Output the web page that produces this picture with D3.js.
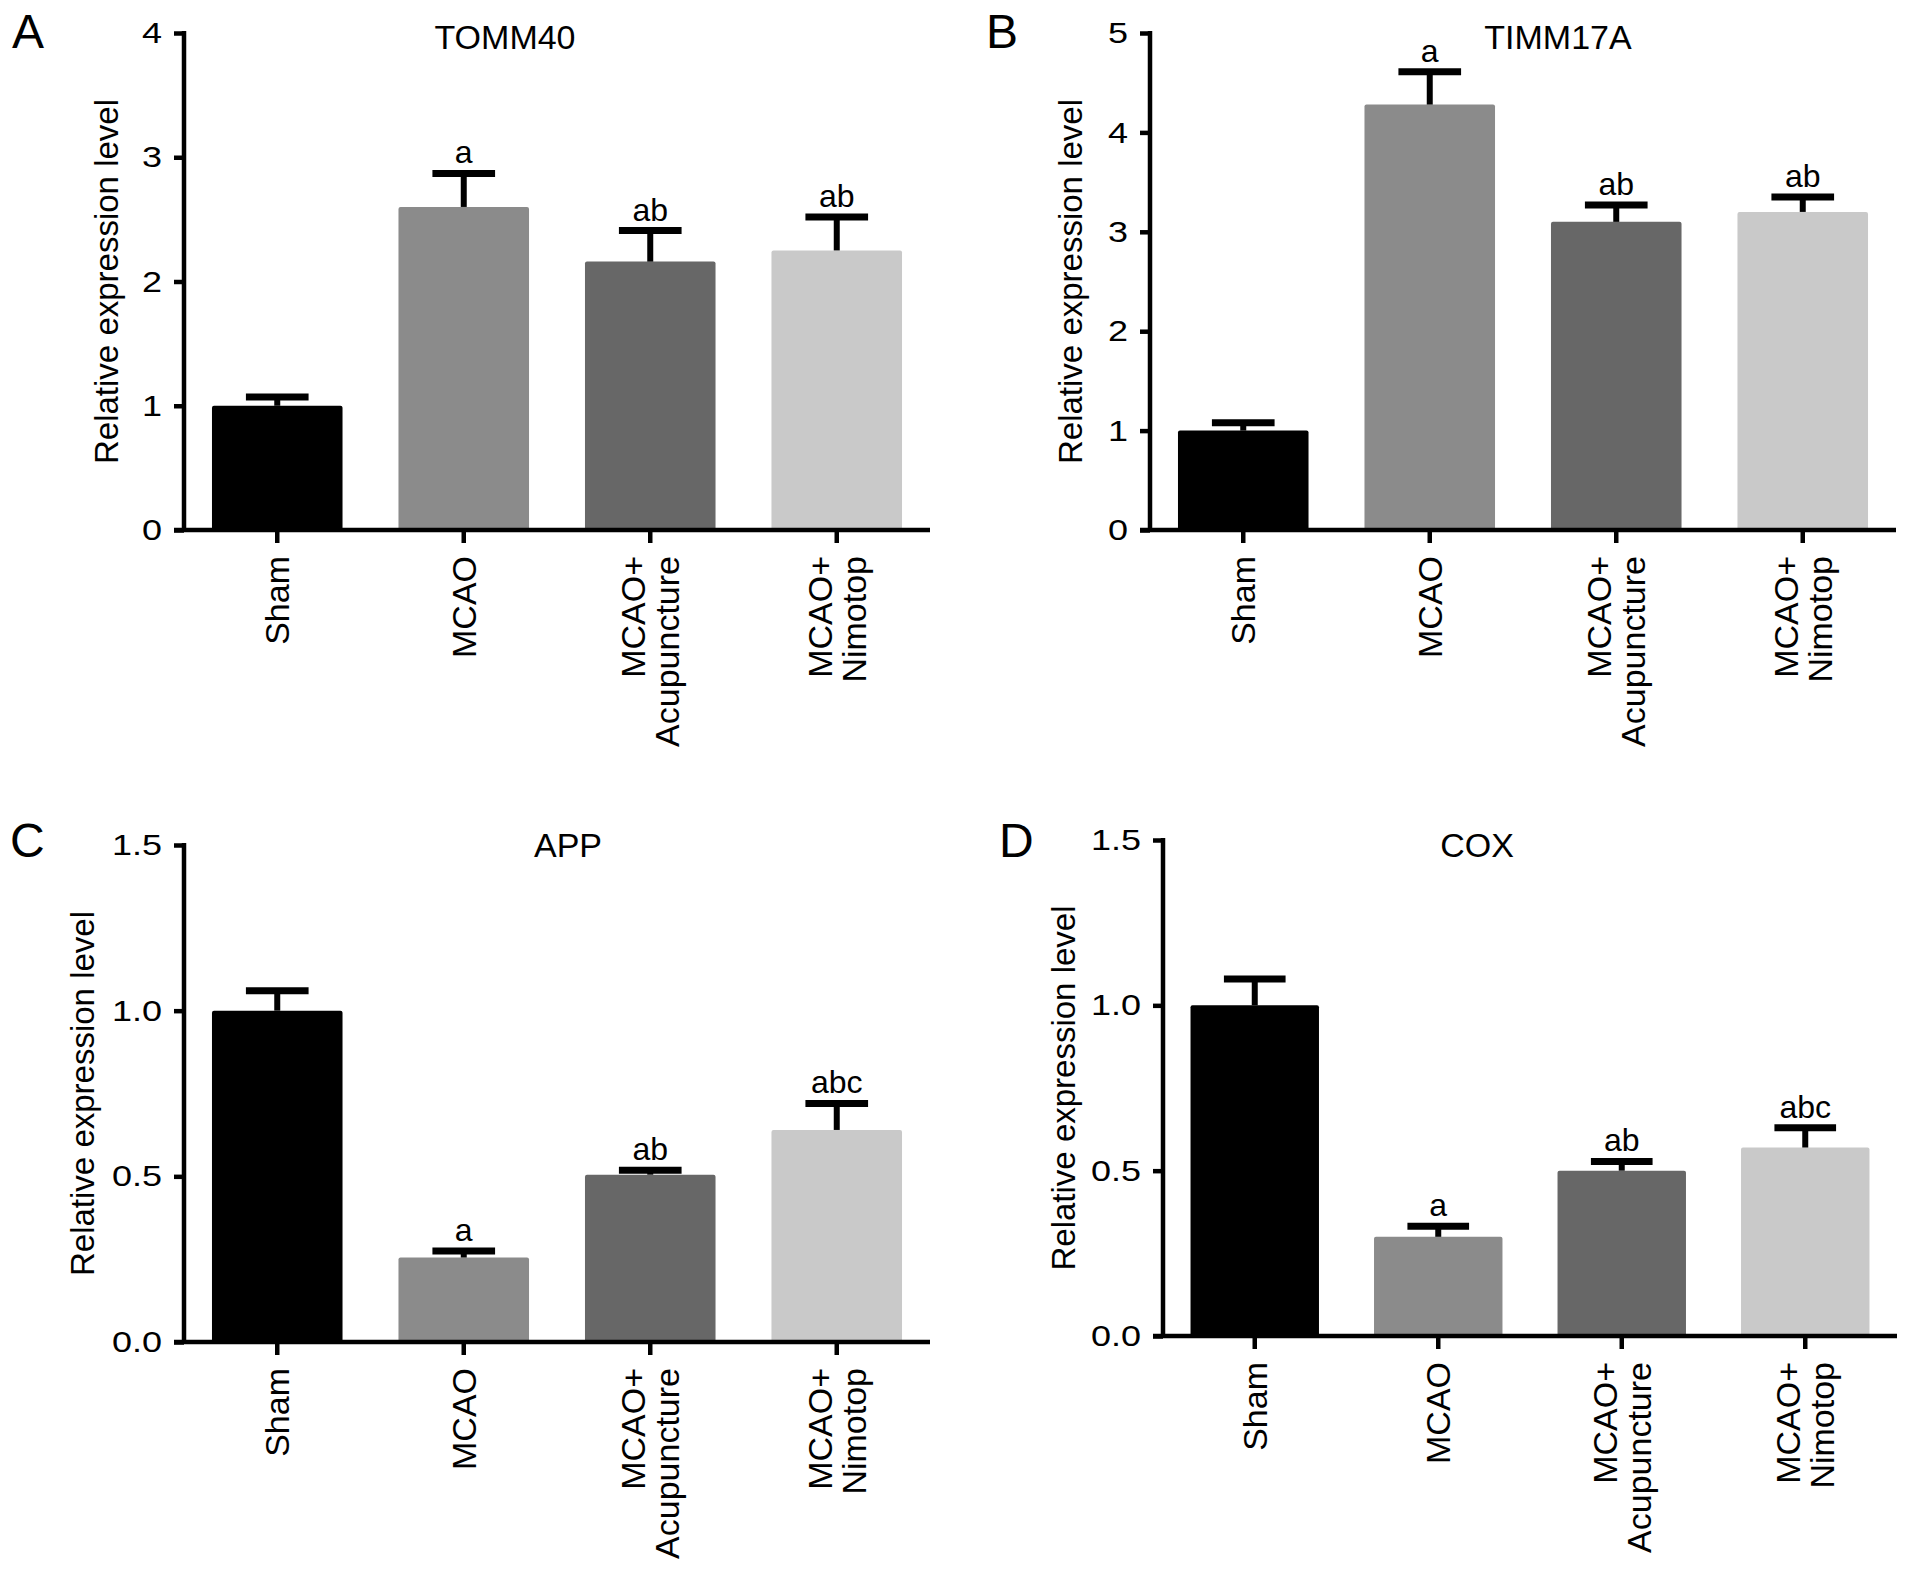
<!DOCTYPE html>
<html>
<head>
<meta charset="utf-8">
<script src="https://cdn.jsdelivr.net/npm/d3@7"></script>
<style>
  html, body { margin: 0; padding: 0; background: #fff; }
  svg text { font-family: "Liberation Sans", Arial, Helvetica, sans-serif; fill: #000; }
</style>
</head>
<body>
<div id="chart"></div>
<script>
const groups = ["Sham", "MCAO", "MCAO+ Acupuncture", "MCAO+ Nimotop"];
const groupLines = [["Sham"], ["MCAO"], ["MCAO+", "Acupuncture"], ["MCAO+", "Nimotop"]];
const barColors = ["#000000", "#8b8b8b", "#676767", "#c9c9c9"];

const tommMean = [1.0, 2.6, 2.16, 2.25];
const tommErr = [0.07, 0.27, 0.25, 0.27];
const tommSig = ["", "a", "ab", "ab"];
const tommTicks = [0, 1, 2, 3, 4];

const timmMean = [1.0, 4.28, 3.1, 3.2];
const timmErr = [0.08, 0.33, 0.17, 0.15];
const timmSig = ["", "a", "ab", "ab"];
const timmTicks = [0, 1, 2, 3, 4, 5];

const appMean = [1.0, 0.255, 0.505, 0.64];
const appErr = [0.06, 0.02, 0.013, 0.08];
const appSig = ["", "a", "ab", "abc"];
const appTicks = [0, 0.5, 1.0, 1.5];

const coxMean = [1.0, 0.3, 0.5, 0.57];
const coxErr = [0.08, 0.032, 0.028, 0.06];
const coxSig = ["", "a", "ab", "abc"];
const coxTicks = [0, 0.5, 1.0, 1.5];

const W = 1913, H = 1574;

const svg = d3.select("#chart")
    .append("svg")
    .attr("width", W)
    .attr("height", H);

function drawPanel(p) {
    const g = svg.append("g");

    const x = d3.scaleBand()
        .domain(groups)
        .range([p.left, p.right])
        .paddingInner(0.3)
        .paddingOuter(0.15);

    const y = d3.scaleLinear()
        .domain([0, p.max])
        .range([p.bottom, p.top]);

    // y axis
    const yAxis = g.append("g")
        .attr("transform", `translate(${p.left},0)`)
        .call(d3.axisLeft(y)
            .tickValues(p.ticks)
            .tickSize(10)
            .tickPadding(12)
            .tickFormat(p.fmt));
    yAxis.select(".domain").remove();
    yAxis.selectAll(".tick line").attr("stroke", "#000").attr("stroke-width", 4.5);
    // tick numbers are drawn wide in the original, stretch them a bit
    yAxis.selectAll(".tick text")
        .style("font-size", "30px")
        .each(function() {
            const len = this.getComputedTextLength();
            d3.select(this)
                .attr("textLength", len * 1.2)
                .attr("lengthAdjust", "spacingAndGlyphs");
        });
    g.append("line")
        .attr("x1", p.left).attr("x2", p.left)
        .attr("y1", y(p.max) - 2).attr("y2", y(0))
        .attr("stroke", "#000").attr("stroke-width", 4.5);

    // bars
    g.selectAll(".bar")
        .data(p.mean)
        .enter()
        .append("rect")
        .attr("x", (d, i) => x(groups[i]))
        .attr("y", d => y(d))
        .attr("width", x.bandwidth())
        .attr("height", d => y(0) - y(d))
        .attr("rx", 2)
        .attr("fill", (d, i) => barColors[i]);

    // error bars (upper only)
    const capW = x.bandwidth() * 0.48;
    p.mean.forEach((m, i) => {
        const cx = x(groups[i]) + x.bandwidth() / 2;
        g.append("line")
            .attr("x1", cx).attr("x2", cx)
            .attr("y1", y(m)).attr("y2", y(m + p.err[i]))
            .attr("stroke", "#000").attr("stroke-width", 6);
        g.append("line")
            .attr("x1", cx - capW / 2).attr("x2", cx + capW / 2)
            .attr("y1", y(m + p.err[i])).attr("y2", y(m + p.err[i]))
            .attr("stroke", "#000").attr("stroke-width", 7);
        if (p.sig[i]) {
            g.append("text")
                .attr("x", cx)
                .attr("y", y(m + p.err[i]) - 10)
                .attr("text-anchor", "middle")
                .style("font-size", "32px")
                .text(p.sig[i]);
        }
    });

    // x axis
    const xAxis = g.append("g")
        .attr("transform", `translate(0,${p.bottom})`)
        .call(d3.axisBottom(x).tickSize(13).tickFormat(""));
    xAxis.select(".domain").remove();
    xAxis.selectAll(".tick line").attr("stroke", "#000").attr("stroke-width", 4.5);
    g.append("line")
        .attr("x1", p.left - 10).attr("x2", p.right)
        .attr("y1", p.bottom).attr("y2", p.bottom)
        .attr("stroke", "#000").attr("stroke-width", 4.5);

    // rotated category labels
    groups.forEach((grp, i) => {
        const cx = x(grp) + x.bandwidth() / 2;
        const lines = groupLines[i];
        const t = g.append("text")
            .attr("transform", `translate(${cx},${p.bottom + 26}) rotate(-90)`)
            .attr("text-anchor", "end")
            .style("font-size", "34px");
        const lh = 34;
        lines.forEach((ln, j) => {
            t.append("tspan")
                .attr("x", 0)
                .attr("y", (j - (lines.length - 1) / 2) * lh + 12)
                .text(ln);
        });
    });

    // y label
    g.append("text")
        .attr("transform", `translate(${p.ylabX},${(p.top + p.bottom) / 2}) rotate(-90)`)
        .attr("text-anchor", "middle")
        .style("font-size", "33px")
        .text("Relative expression level");

    // title
    g.append("text")
        .attr("x", p.titleX)
        .attr("y", p.titleY)
        .attr("text-anchor", "middle")
        .style("font-size", "34px")
        .text(p.title);

    // panel letter
    g.append("text")
        .attr("x", p.letterX)
        .attr("y", p.letterY)
        .style("font-size", "48px")
        .text(p.letter);
}

drawPanel({
    letter: "A", letterX: 12, letterY: 48,
    title: "TOMM40", titleX: 505, titleY: 49,
    left: 184, right: 930, top: 33, bottom: 530,
    max: 4, ticks: tommTicks, fmt: d3.format("d"), ylabX: 118,
    mean: tommMean, err: tommErr, sig: tommSig
});

drawPanel({
    letter: "B", letterX: 986, letterY: 48,
    title: "TIMM17A", titleX: 1558, titleY: 49,
    left: 1150, right: 1896, top: 33, bottom: 530,
    max: 5, ticks: timmTicks, fmt: d3.format("d"), ylabX: 1082,
    mean: timmMean, err: timmErr, sig: timmSig
});

drawPanel({
    letter: "C", letterX: 10, letterY: 857,
    title: "APP", titleX: 568, titleY: 857,
    left: 184, right: 930, top: 845, bottom: 1342,
    max: 1.5, ticks: appTicks, fmt: d3.format(".1f"), ylabX: 94,
    mean: appMean, err: appErr, sig: appSig
});

drawPanel({
    letter: "D", letterX: 999, letterY: 857,
    title: "COX", titleX: 1477, titleY: 857,
    left: 1163, right: 1897, top: 840, bottom: 1336,
    max: 1.5, ticks: coxTicks, fmt: d3.format(".1f"), ylabX: 1075,
    mean: coxMean, err: coxErr, sig: coxSig
});
</script>
</body>
</html>
